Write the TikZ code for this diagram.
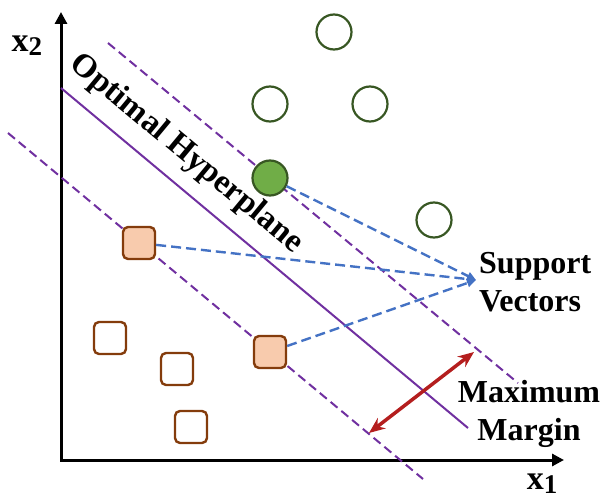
\documentclass[tikz,border=0pt]{standalone}
\usepackage{fontspec}
\setmainfont{Liberation Serif}
\usetikzlibrary{arrows.meta}

\definecolor{hyper}{HTML}{7030A0}
\definecolor{svblue}{HTML}{4472C4}
\definecolor{gdark}{HTML}{385723}
\definecolor{gfill}{HTML}{70AD47}
\definecolor{sqedge}{HTML}{843C0C}
\definecolor{sqfill}{HTML}{F8CBAD}
\definecolor{marginred}{HTML}{B41E1E}

\begin{document}
\begin{tikzpicture}[x=1pt,y=-1pt,
  axisline/.style={line width=3pt, line join=miter,
    {Triangle[length=12pt,width=12pt]}-{Triangle[length=12pt,width=12pt]}},
  hyperline/.style={draw=hyper, line width=2pt},
  marginline/.style={draw=hyper, line width=2pt, dash pattern=on 9pt off 5pt},
  svline/.style={draw=svblue, line width=2.4pt, dash pattern=on 10pt off 5pt,
    -{Triangle[length=9pt,width=8pt]}},
  gapline/.style={draw=marginred, line width=3.5pt,
    {Stealth[length=16pt,width=13pt]}-{Stealth[length=16pt,width=13pt]}},
  opencirc/.style={circle, draw=gdark, fill=white, line width=2.2pt,
    minimum size=35pt, inner sep=0pt},
  svcirc/.style={opencirc, fill=gfill},
  opensq/.style={rectangle, rounded corners=5pt, draw=sqedge, fill=white,
    line width=2.4pt, minimum size=32pt, inner sep=0pt},
  svsq/.style={opensq, fill=sqfill},
  lbl/.style={inner sep=0pt, font=\fontsize{32}{38.5}\selectfont\bfseries},
  axlbl/.style={inner sep=0pt, font=\fontsize{34}{38}\selectfont\bfseries}
]
\useasboundingbox (0,0) rectangle (603,500);

% axes
\coordinate (ytop) at (61,12);
\coordinate (origin) at (61,460);
\coordinate (xend) at (564,460);
\draw[axisline] (ytop) -- (origin) -- (xend);
\node[axlbl] (xtwo) at (27,46) {x\raisebox{-0.25ex}{\fontsize{27}{30}\selectfont 2}};
\node[axlbl] (xone) at (542,484) {x\raisebox{-0.25ex}{\fontsize{27}{30}\selectfont 1}};

% hyperplane and the two margin lines
\coordinate (hA) at (61,88);
\coordinate (hB) at (468,428);
\coordinate (uA) at (108,43);
\coordinate (uB) at (518,383);
\coordinate (lA) at (8,133);
\coordinate (lB) at (423,479);
\draw[hyperline] (hA) -- (hB);
\draw[marginline] (uA) -- (uB);
\draw[marginline] (lA) -- (lB);

\node[inner sep=0pt, font=\fontsize{33}{38}\selectfont\bfseries, rotate=-39.7]
  (hyp) at (186,154) {Optimal Hyperplane};

% class one: circles
\node[opencirc] (c1) at (334,32) {};
\node[opencirc] (c2) at (270,104) {};
\node[opencirc] (c3) at (370,104) {};
\node[opencirc] (c4) at (434,220) {};
\node[svcirc]   (c5) at (270,178) {};

% class two: squares
\node[svsq]   (s1) at (139,243) {};
\node[svsq]   (s2) at (270,352) {};
\node[opensq] (s3) at (110,338) {};
\node[opensq] (s4) at (177,369) {};
\node[opensq] (s5) at (191,427) {};

% support vector callout
\coordinate (svtip) at (476,280);
\draw[svline] (c5) -- (svtip);
\draw[svline] (s1) -- (svtip);
\draw[svline] (s2) -- (svtip);
\node[lbl, anchor=north west, align=left] (sv) at (479,252) {Support\\Vectors};

% margin width
\coordinate (mA) at (474,352);
\coordinate (mB) at (369,433);
\draw[gapline] (mA) -- (mB);
\node[lbl, anchor=north, align=center] (mm) at (529,380) {Maximum\\Margin};
\end{tikzpicture}
\end{document}
